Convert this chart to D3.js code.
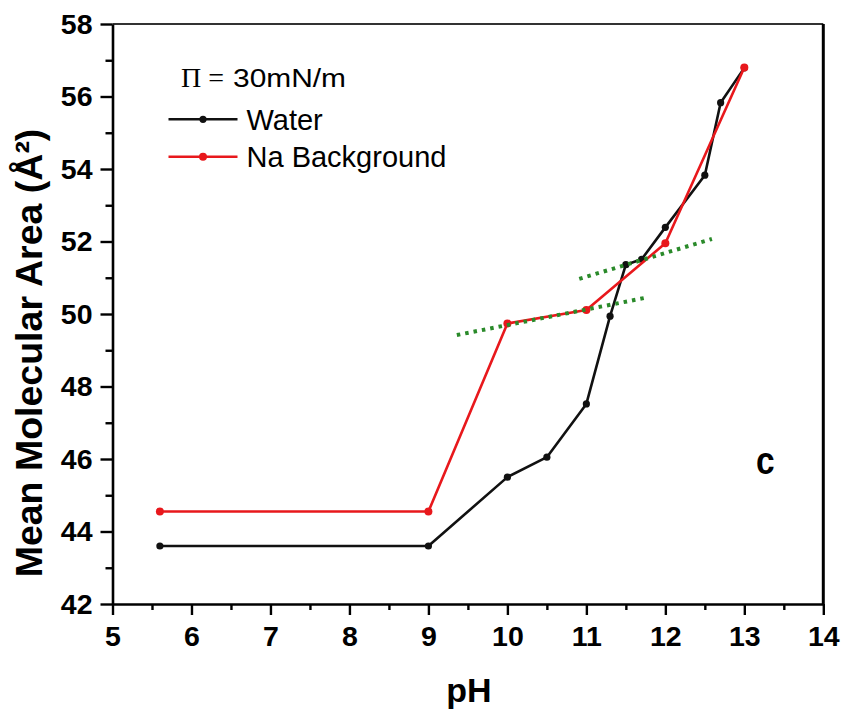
<!DOCTYPE html>
<html><head><meta charset="utf-8">
<script src="https://cdn.jsdelivr.net/npm/d3@7/dist/d3.min.js"></script>
<style>
html,body{margin:0;padding:0;background:#fff;}
svg{display:block;font-family:"Liberation Sans",Arial,sans-serif;}
</style></head>
<body>
<svg id="chart" width="843" height="710"></svg>
<script>
// ---- data ----
const phWater   = [5.6, 9, 10, 10.5, 11, 11.3, 11.5, 11.7, 12, 12.5, 12.7, 13];
const areaWater = [43.6, 43.6, 45.5, 46.05, 47.52, 49.94, 51.36, 51.51, 52.39, 53.83, 55.83, 56.79];
const phNa      = [5.6, 9, 10, 11, 12, 13];
const areaNa    = [44.55, 44.55, 49.74, 50.11, 51.95, 56.8];
const fit1X = [9.36, 11.78], fit1Y = [49.42, 50.46];
const fit2X = [10.91, 12.59], fit2Y = [50.97, 52.07];
const xTicks = [5, 6, 7, 8, 9, 10, 11, 12, 13, 14];
const xMinor = [5.5, 6.5, 7.5, 8.5, 9.5, 10.5, 11.5, 12.5, 13.5];
const yTicks = [42, 44, 46, 48, 50, 52, 54, 56, 58];
const yMinor = [43, 45, 47, 49, 51, 53, 55, 57];
const seriesNames = ["Water", "Na Background"];

// ---- layout ----
const L = 112.5, R = 823.3, T = 24, B = 604;
const x = d3.scaleLinear().domain([5, 14]).range([L, R]);
const y = d3.scaleLinear().domain([42, 58]).range([B, T]);
const svg = d3.select("#chart");

const zip = (a, b) => a.map((v, i) => [v, b[i]]);
const line = d3.line().x(d => x(d[0])).y(d => y(d[1]));

// frame top and right
svg.append("line").attr("x1", L).attr("x2", R).attr("y1", T).attr("y2", T)
  .attr("stroke", "#333").attr("stroke-width", 1.8);
svg.append("line").attr("x1", R).attr("x2", R).attr("y1", T).attr("y2", B)
  .attr("stroke", "#000").attr("stroke-width", 3);

// axes
function styleAxis(g) {
  g.select(".domain").attr("stroke", "#000").attr("stroke-width", 2.6);
  g.selectAll(".tick line").attr("stroke", "#000").attr("stroke-width", 2.4);
  g.selectAll(".tick text").attr("fill", "#000").attr("font-size", 28.5).attr("font-weight", "bold");
}
const gx = svg.append("g").attr("transform", `translate(0,${B})`)
  .call(d3.axisBottom(x).tickValues(xTicks).tickFormat(d3.format("d")).tickSizeInner(11).tickSizeOuter(0).tickPadding(11));
styleAxis(gx);
const gxm = svg.append("g").attr("transform", `translate(0,${B})`)
  .call(d3.axisBottom(x).tickValues(xMinor).tickFormat("").tickSizeInner(6).tickSizeOuter(0));
gxm.select(".domain").remove();
gxm.selectAll(".tick line").attr("stroke", "#000").attr("stroke-width", 2.4);

const gy = svg.append("g").attr("transform", `translate(${L},0)`)
  .call(d3.axisLeft(y).tickValues(yTicks).tickFormat(d3.format("d")).tickSizeInner(12).tickSizeOuter(0).tickPadding(8));
styleAxis(gy);
const gym = svg.append("g").attr("transform", `translate(${L},0)`)
  .call(d3.axisLeft(y).tickValues(yMinor).tickFormat("").tickSizeInner(7).tickSizeOuter(0));
gym.select(".domain").remove();
gym.selectAll(".tick line").attr("stroke", "#000").attr("stroke-width", 2.4);

// axis titles
svg.append("text").attr("x", 469).attr("y", 702).attr("text-anchor", "middle")
  .attr("font-size", 34).attr("font-weight", "bold").attr("fill", "#000").text("pH");
svg.append("text").attr("transform", "translate(42,353) rotate(-90)").attr("text-anchor", "middle")
  .attr("font-size", 37.5).attr("font-weight", "bold").attr("fill", "#000").text("Mean Molecular Area (Å²)");

// series
const BLACK = "#111", RED = "#e8181c", GREEN = "#2a8a2a";
svg.append("path").datum(zip(phWater, areaWater)).attr("d", line)
  .attr("fill", "none").attr("stroke", BLACK).attr("stroke-width", 2.6).attr("stroke-linejoin", "round");
svg.selectAll("circle.w").data(zip(phWater, areaWater)).enter().append("circle").attr("class", "w")
  .attr("cx", d => x(d[0])).attr("cy", d => y(d[1])).attr("r", 3.6).attr("fill", BLACK);
svg.append("path").datum(zip(phNa, areaNa)).attr("d", line)
  .attr("fill", "none").attr("stroke", RED).attr("stroke-width", 2.6).attr("stroke-linejoin", "round");
svg.selectAll("circle.n").data(zip(phNa, areaNa)).enter().append("circle").attr("class", "n")
  .attr("cx", d => x(d[0])).attr("cy", d => y(d[1])).attr("r", 4).attr("fill", RED);

// fit lines
[[fit1X, fit1Y], [fit2X, fit2Y]].forEach(([fx, fy]) => {
  svg.append("path").datum(zip(fx, fy)).attr("d", line)
    .attr("fill", "none").attr("stroke", GREEN).attr("stroke-width", 4).attr("stroke-dasharray", "3.5,5");
});

// legend
const lg = svg.append("g");
lg.append("text").attr("x", 181).attr("y", 86.5).attr("fill", "#000")
  .attr("font-family", "'Liberation Serif','Times New Roman',serif").attr("font-size", 28).text("Π =");
lg.append("text").attr("x", 233).attr("y", 86.5).attr("fill", "#000")
  .attr("font-size", 26).attr("textLength", 113).attr("lengthAdjust", "spacingAndGlyphs").text("30mN/m");
const legendItems = [[seriesNames[0], BLACK, 119.3, 130], [seriesNames[1], RED, 156.7, 166.7]];
legendItems.forEach(([name, col, ly, ty]) => {
  lg.append("line").attr("x1", 168.5).attr("x2", 237.5).attr("y1", ly).attr("y2", ly)
    .attr("stroke", col).attr("stroke-width", 2.6);
  lg.append("circle").attr("cx", 203).attr("cy", ly).attr("r", col === RED ? 4 : 3.6).attr("fill", col);
  lg.append("text").attr("x", 246.5).attr("y", ty).attr("font-size", 29).attr("fill", "#000").text(name);
});

// panel label
svg.append("text").attr("transform", "translate(756,474) scale(0.88,1)")
  .attr("font-size", 38).attr("font-weight", "bold").attr("fill", "#000").text("c");
</script>
</body></html>
